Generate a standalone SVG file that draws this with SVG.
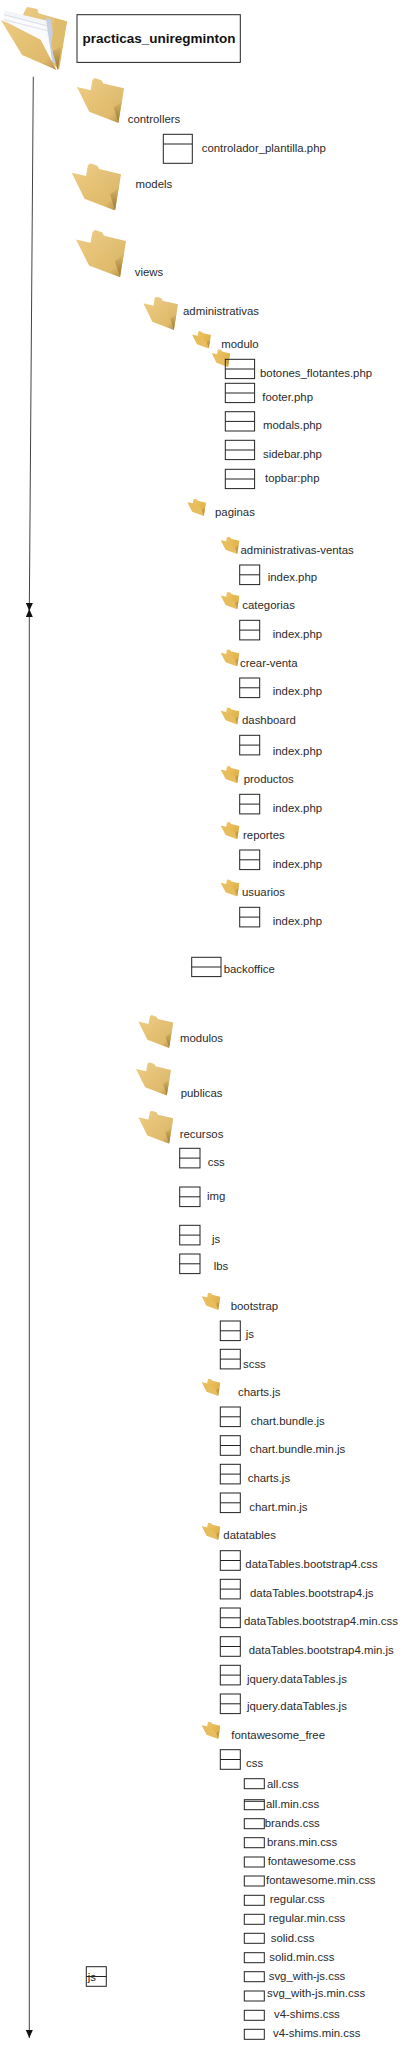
<svg xmlns="http://www.w3.org/2000/svg" width="412" height="2048" viewBox="0 0 412 2048">
<style>
text{font-family:"Liberation Sans",Arial,sans-serif;font-size:11.4px;fill:#2a2a2a}
text.b{font-weight:bold;font-size:13.5px;fill:#111}
.t{fill:#fff;stroke:#222;stroke-width:1}
.m{stroke:#222;stroke-width:1;fill:none}
.c{fill:none;stroke:#444;stroke-width:1}
</style>
<defs>
<linearGradient id="gb" x1="0" y1="0" x2="0.6" y2="1"><stop offset="0" stop-color="#ebcb84"/><stop offset="1" stop-color="#d9b566"/></linearGradient>
<linearGradient id="gf" x1="0" y1="0" x2="1" y2="1"><stop offset="0" stop-color="#ecca80"/><stop offset="0.8" stop-color="#dfba6b"/><stop offset="1" stop-color="#b8924a"/></linearGradient>
<linearGradient id="gd" x1="0" y1="0" x2="0" y2="1"><stop offset="0" stop-color="#d9b566"/><stop offset="1" stop-color="#96762f"/></linearGradient>
<linearGradient id="gs" x1="0" y1="0" x2="1" y2="1"><stop offset="0" stop-color="#f0c566"/><stop offset="1" stop-color="#d9a93f"/></linearGradient>
<symbol id="folder" viewBox="0 0 100 100" preserveAspectRatio="none">
<path d="M33 4 38 0 52 5 56 12 100 23 96 50 88 100 50 60 29 27Z" fill="url(#gb)"/>
<path d="M0 20 29 27Q60 40 77 64L88 100 26 75Z" fill="url(#gf)"/>
<path d="M78 66 88 100 95 52Z" fill="url(#gd)"/>
</symbol>
<symbol id="tiny" viewBox="0 0 100 100" preserveAspectRatio="none">
<path d="M33 4 38 0 52 5 56 12 100 23 96 50 88 100 50 60 29 27Z" fill="url(#gs)"/>
<path d="M0 20 29 27Q60 40 77 64L88 100 26 75Z" fill="#e8bd5e"/>
<path d="M78 66 88 100 95 52Z" fill="#c49a48"/>
</symbol>
<symbol id="rootfolder" viewBox="0 0 100 100" preserveAspectRatio="none">
<path d="M38 2 40 0 55 3 57 10 100 23 88 100 50 60 30 20Z" fill="url(#gb)"/>
<path d="M4 5 70 22 82 85 8 30Z" fill="#f4f5f8"/>
<path d="M4 14 66 30 80 88 8 36Z" fill="#fbfbfd"/>
<path d="M68 17 76 20 84 88 78 90Z" fill="#c5cfe0"/>
<path d="M4 12 70 30M4 20 72 38" stroke="#ccd2de" stroke-width="1" fill="none"/>
<path d="M0 21 10 25 60 52 84 100 32 76Z" fill="url(#gf)"/>
<path d="M76 60 86 100 100 23 82 18Z" fill="#dfbb6c"/>
<path d="M78 70 86 100 92 62Z" fill="url(#gd)"/>
</symbol>
<marker id="arr" viewBox="0 0 8 7" refX="8" refY="3.5" markerWidth="8" markerHeight="7" markerUnits="userSpaceOnUse" orient="auto-start-reverse"><path d="M0 0 8 3.5 0 7Z" fill="#111"/></marker>
</defs>

<g id="connectors">
<path class="c" d="M33.3 76.7 29.3 611" marker-end="url(#arr)"/>
<path class="c" d="M29.3 609V2038" marker-start="url(#arr)" marker-end="url(#arr)"/>
</g>

<g id="n-root"><use href="#rootfolder" x="1" y="7" width="66" height="63"/></g>
<g id="n-title"><rect class="t" x="77" y="14.7" width="163.3" height="47.7"/><text class="b" x="82.5" y="42.7">practicas_uniregminton</text></g>

<g id="n-controllers"><use href="#folder" x="77" y="78" width="47" height="45"/><text x="127.7" y="123.3">controllers</text></g>
<g id="n-controlador"><rect class="t" x="163.3" y="134.3" width="29" height="29"/><path class="m" d="M163.3 144H192.3"/><text x="201.7" y="152">controlador_plantilla.php</text></g>
<g id="n-models"><use href="#folder" x="71.7" y="163.3" width="49.3" height="47.3"/><text x="135.5" y="188.3">models</text></g>
<g id="n-views"><use href="#folder" x="76" y="230" width="50" height="47.3"/><text x="134.7" y="276.3">views</text></g>
<g id="n-administrativas"><use href="#folder" x="143.3" y="296.7" width="34.7" height="33.3"/><text x="183" y="314.7">administrativas</text></g>
<g id="n-modulo"><use href="#tiny" x="192" y="331" width="19" height="17.5"/><text x="221.3" y="348.3">modulo</text></g>
<g id="n-modulo-folder"><use href="#tiny" x="211.7" y="349.3" width="18.5" height="18"/></g>
<g id="n-botones"><rect class="t" x="225.3" y="359.3" width="29.3" height="19.3" style="fill:none"/><path class="m" d="M225.3 369H254.6"/><text x="260" y="376.7">botones_flotantes.php</text></g>
<g id="n-footer"><rect class="t" x="225.3" y="383.3" width="29.3" height="19.3"/><path class="m" d="M225.3 393H254.6"/><text x="262.3" y="400.7">footer.php</text></g>
<g id="n-modals"><rect class="t" x="225.3" y="411.7" width="29.3" height="19.3"/><path class="m" d="M225.3 421.4H254.6"/><text x="263" y="429.3">modals.php</text></g>
<g id="n-sidebar"><rect class="t" x="225.3" y="440.3" width="29.3" height="19.3"/><path class="m" d="M225.3 450H254.6"/><text x="263" y="458">sidebar.php</text></g>
<g id="n-topbar"><rect class="t" x="225.3" y="469.3" width="29.3" height="19.3"/><path class="m" d="M225.3 479H254.6"/><text x="265" y="482">topbar:php</text></g>
<g id="n-paginas"><use href="#tiny" x="187.3" y="498.7" width="18.7" height="17.3"/><text x="215" y="515.7">paginas</text></g>

<g id="n-admin-ventas"><use href="#tiny" x="220.7" y="536.7" width="18.7" height="17.3"/><text x="240.5" y="553.7">administrativas-ventas</text></g>
<g id="n-index1"><rect class="t" x="239.7" y="565" width="20" height="19.6"/><path class="m" d="M239.7 574.8H259.7"/><text x="267.7" y="580.7">index.php</text></g>
<g id="n-categorias"><use href="#tiny" x="220.7" y="592" width="18.7" height="17.3"/><text x="242.3" y="609.3">categorias</text></g>
<g id="n-index2"><rect class="t" x="239.7" y="620.3" width="20" height="19.6"/><path class="m" d="M239.7 630.1H259.7"/><text x="272.7" y="638">index.php</text></g>
<g id="n-crear"><use href="#tiny" x="220.7" y="649.3" width="18.7" height="17.3"/><text x="240" y="666.7">crear-venta</text></g>
<g id="n-index3"><rect class="t" x="239.7" y="678" width="20" height="19.6"/><path class="m" d="M239.7 687.8H259.7"/><text x="272.7" y="695.3">index.php</text></g>
<g id="n-dashboard"><use href="#tiny" x="220.7" y="707.3" width="18.7" height="17.3"/><text x="242" y="724">dashboard</text></g>
<g id="n-index4"><rect class="t" x="239.7" y="735.3" width="20" height="19.6"/><path class="m" d="M239.7 745.1H259.7"/><text x="272.7" y="754.7">index.php</text></g>
<g id="n-productos"><use href="#tiny" x="220.7" y="766" width="18.7" height="17.3"/><text x="243.7" y="783.3">productos</text></g>
<g id="n-index5"><rect class="t" x="239.7" y="794.3" width="20" height="19.6"/><path class="m" d="M239.7 804.1H259.7"/><text x="272.7" y="812">index.php</text></g>
<g id="n-reportes"><use href="#tiny" x="220.7" y="822" width="18.7" height="17.3"/><text x="243" y="839">reportes</text></g>
<g id="n-index6"><rect class="t" x="239.7" y="850" width="20" height="19.6"/><path class="m" d="M239.7 859.8H259.7"/><text x="272.7" y="867.7">index.php</text></g>
<g id="n-usuarios"><use href="#tiny" x="220.7" y="879.3" width="18.7" height="17.3"/><text x="242" y="896.3">usuarios</text></g>
<g id="n-index7"><rect class="t" x="239.7" y="907.3" width="20" height="19.6"/><path class="m" d="M239.7 917.1H259.7"/><text x="272.7" y="925">index.php</text></g>
<g id="n-backoffice"><rect class="t" x="191.7" y="957.3" width="29.3" height="19.3"/><path class="m" d="M191.7 967H221"/><text x="223.7" y="973">backoffice</text></g>

<g id="n-modulos"><use href="#folder" x="138.3" y="1015" width="35" height="33"/><text x="180" y="1041.7">modulos</text></g>
<g id="n-publicas"><use href="#folder" x="136" y="1062.3" width="35" height="33.3"/><text x="180.7" y="1097.3">publicas</text></g>
<g id="n-recursos"><use href="#folder" x="138.3" y="1110.7" width="35" height="33"/><text x="179.7" y="1137.7">recursos</text></g>
<g id="n-css"><rect class="t" x="179.7" y="1148.3" width="20.3" height="19.6"/><path class="m" d="M179.7 1158.1H200"/><text x="207.7" y="1166.3">css</text></g>
<g id="n-img"><rect class="t" x="179.7" y="1187" width="20.3" height="19.6"/><path class="m" d="M179.7 1196.8H200"/><text x="207" y="1199.7">img</text></g>
<g id="n-js"><rect class="t" x="179.7" y="1225.3" width="20.3" height="19.6"/><path class="m" d="M179.7 1235.1H200"/><text x="212" y="1242.7">js</text></g>
<g id="n-lbs"><rect class="t" x="179.7" y="1254" width="20.3" height="19.6"/><path class="m" d="M179.7 1263.8H200"/><text x="213.7" y="1269.7">lbs</text></g>

<g id="n-bootstrap"><use href="#tiny" x="201.7" y="1292.7" width="18.7" height="17.3"/><text x="230.7" y="1309.7">bootstrap</text></g>
<g id="n-bs-js"><rect class="t" x="220.3" y="1321" width="20" height="19.6"/><path class="m" d="M220.3 1330.8H240.3"/><text x="245.7" y="1338.3">js</text></g>
<g id="n-bs-scss"><rect class="t" x="220.3" y="1349.3" width="20" height="19.6"/><path class="m" d="M220.3 1359.1H240.3"/><text x="243" y="1367.7">scss</text></g>
<g id="n-chartsjs"><use href="#tiny" x="201.7" y="1378.7" width="18.7" height="17.3"/><text x="238" y="1396">charts.js</text></g>
<g id="n-cb"><rect class="t" x="220.3" y="1407" width="20" height="19.6"/><path class="m" d="M220.3 1416.8H240.3"/><text x="250.7" y="1424.7">chart.bundle.js</text></g>
<g id="n-cbm"><rect class="t" x="220.3" y="1435.7" width="20" height="19.6"/><path class="m" d="M220.3 1445.5H240.3"/><text x="249.7" y="1453.3">chart.bundle.min.js</text></g>
<g id="n-cj"><rect class="t" x="220.3" y="1464.3" width="20" height="19.6"/><path class="m" d="M220.3 1474.1H240.3"/><text x="247.7" y="1482">charts.js</text></g>
<g id="n-cm"><rect class="t" x="220.3" y="1493" width="20" height="19.6"/><path class="m" d="M220.3 1502.8H240.3"/><text x="249.3" y="1510.7">chart.min.js</text></g>
<g id="n-datatables"><use href="#tiny" x="201.7" y="1522.7" width="18.7" height="17.3"/><text x="223.3" y="1539.3">datatables</text></g>
<g id="n-dt1"><rect class="t" x="220.3" y="1550.7" width="20" height="19.6"/><path class="m" d="M220.3 1560.5H240.3"/><text x="245.3" y="1568">dataTables.bootstrap4.css</text></g>
<g id="n-dt2"><rect class="t" x="220.3" y="1579.3" width="20" height="19.6"/><path class="m" d="M220.3 1589.1H240.3"/><text x="250" y="1596.7">dataTables.bootstrap4.js</text></g>
<g id="n-dt3"><rect class="t" x="220.3" y="1608" width="20" height="19.6"/><path class="m" d="M220.3 1617.8H240.3"/><text x="244" y="1625.3">dataTables.bootstrap4.min.css</text></g>
<g id="n-dt4"><rect class="t" x="220.3" y="1636.7" width="20" height="19.6"/><path class="m" d="M220.3 1646.5H240.3"/><text x="248.7" y="1654.3">dataTables.bootstrap4.min.js</text></g>
<g id="n-dt5"><rect class="t" x="220.3" y="1665.3" width="20" height="19.6"/><path class="m" d="M220.3 1675.1H240.3"/><text x="247" y="1683">jquery.dataTables.js</text></g>
<g id="n-dt6"><rect class="t" x="220.3" y="1694" width="20" height="19.6"/><path class="m" d="M220.3 1703.8H240.3"/><text x="247" y="1709.7">jquery.dataTables.js</text></g>
<g id="n-fontawesome"><use href="#tiny" x="201.7" y="1721.7" width="18.7" height="17.3"/><text x="231.3" y="1738.7">fontawesome_free</text></g>
<g id="n-fa-css"><rect class="t" x="220.3" y="1749.7" width="20" height="19.6"/><path class="m" d="M220.3 1759.5H240.3"/><text x="246" y="1767.3">css</text></g>

<g id="n-f1"><rect class="t" x="244.3" y="1778.7" width="20" height="10"/><text x="267" y="1788.3">all.css</text></g>
<g id="n-f2"><rect class="t" x="244.3" y="1799.7" width="20" height="10"/><path class="m" d="M244.3 1801.3H264.3"/><text x="266" y="1807.7">all.min.css</text></g>
<g id="n-f3"><rect class="t" x="244.3" y="1818.7" width="20" height="10"/><text x="264.7" y="1826.7">brands.css</text></g>
<g id="n-f4"><rect class="t" x="244.3" y="1837.7" width="20" height="10"/><text x="267" y="1845.7">brans.min.css</text></g>
<g id="n-f5"><rect class="t" x="244.3" y="1857" width="20" height="10"/><text x="267.7" y="1865">fontawesome.css</text></g>
<g id="n-f6"><rect class="t" x="244.3" y="1876" width="20" height="10"/><text x="266" y="1884">fontawesome.min.css</text></g>
<g id="n-f7"><rect class="t" x="244.3" y="1895.3" width="20" height="10"/><text x="269.7" y="1903.3">regular.css</text></g>
<g id="n-f8"><rect class="t" x="244.3" y="1914.3" width="20" height="10"/><text x="268.7" y="1922.3">regular.min.css</text></g>
<g id="n-f9"><rect class="t" x="244.3" y="1933.3" width="20" height="10"/><text x="270.7" y="1941.7">solid.css</text></g>
<g id="n-f10"><rect class="t" x="244.3" y="1952.7" width="20" height="10"/><text x="269.3" y="1960.7">solid.min.css</text></g>
<g id="n-f11"><rect class="t" x="244.3" y="1971.7" width="20" height="10"/><text x="268.7" y="1979.7">svg_with-js.css</text></g>
<g id="n-f12"><rect class="t" x="244.3" y="1991" width="20" height="10"/><text x="267" y="1997">svg_with-js.min.css</text></g>
<g id="n-f13"><rect class="t" x="244.3" y="2010.3" width="20" height="10"/><text x="274" y="2018">v4-shims.css</text></g>
<g id="n-f14"><rect class="t" x="244.3" y="2029.3" width="20" height="10"/><text x="273" y="2037.3">v4-shims.min.css</text></g>
<g id="n-js-stray"><rect class="t" x="86.3" y="1966.7" width="20" height="19.6"/><path class="m" d="M86.3 1976.5H106.3"/><text x="87.7" y="1980.5">js</text></g>
</svg>
